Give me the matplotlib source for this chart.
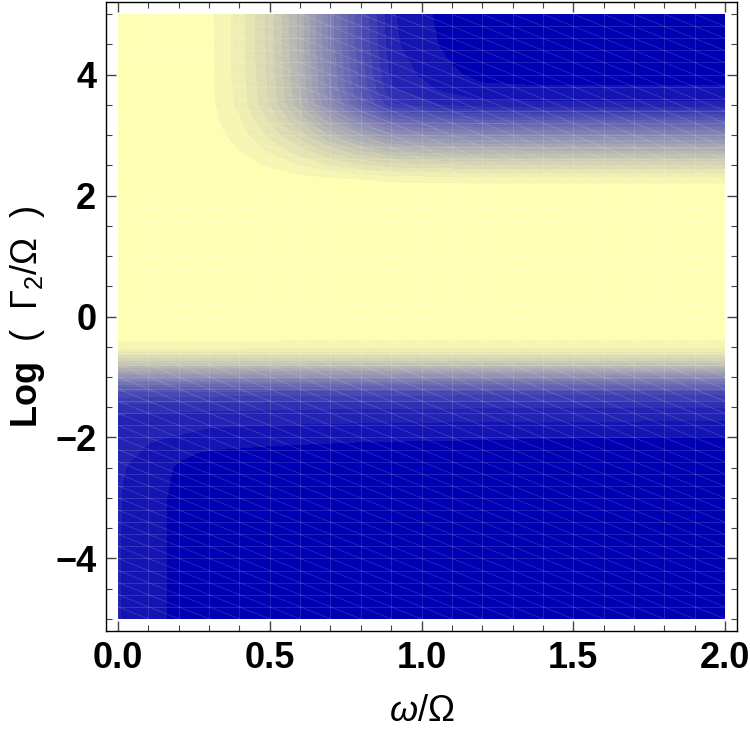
import numpy as np
import matplotlib
matplotlib.use("Agg")
import matplotlib.pyplot as plt
from matplotlib.collections import LineCollection
from matplotlib.ticker import MultipleLocator

plt.rcParams["font.family"] = ["Liberation Sans", "DejaVu Sans"]
plt.rcParams["mathtext.fontset"] = "custom"
plt.rcParams["mathtext.rm"] = "Liberation Sans"
plt.rcParams["mathtext.it"] = "Liberation Sans:italic"
plt.rcParams["mathtext.bf"] = "Liberation Sans:bold"

# ── Data (0 = dark blue, 1 = pale yellow) ────────────────────────────────────
# upper half: Log(Γ2/Ω) from 0 to 5
x_upper = [0, 0.2, 0.3, 0.4, 0.5, 0.6, 0.7, 0.8, 0.9, 1.0, 1.1, 1.2, 1.4, 2.0]
y_upper = [0, 1.5, 2.0, 2.25, 2.5, 2.75, 3.0, 3.25, 3.5, 3.75, 4.0, 4.5, 5.0]
z_upper = [
    [1, 1, 1, 1, 1, 1, 1, 1, 1, 1, 1, 1, 1, 1],
    [1, 1, 1, 1, 1, 1, 1, 1, 1, 1, 1, 1, 1, 1],
    [1, 1, 1, 0.999, 0.998, 0.996, 0.994, 0.992, 0.991, 0.99, 0.99, 0.99, 0.99, 0.99],
    [1, 1, 0.9985, 0.995, 0.989, 0.981, 0.971, 0.962, 0.954, 0.9525, 0.951, 0.95, 0.95, 0.95],
    [1, 0.999, 0.994, 0.978, 0.952, 0.918, 0.878, 0.845, 0.817, 0.81, 0.804, 0.801, 0.8, 0.8],
    [1, 0.998, 0.988, 0.958, 0.91, 0.848, 0.775, 0.712, 0.661, 0.649, 0.638, 0.632, 0.63, 0.63],
    [1, 0.997, 0.982, 0.94, 0.868, 0.778, 0.668, 0.572, 0.497, 0.478, 0.462, 0.452, 0.45, 0.45],
    [1, 0.996, 0.977, 0.922, 0.83, 0.71, 0.565, 0.437, 0.332, 0.307, 0.286, 0.273, 0.27, 0.27],
    [1, 0.995, 0.973, 0.907, 0.796, 0.648, 0.466, 0.304, 0.167, 0.136, 0.11, 0.094, 0.09, 0.09],
    [1, 0.995, 0.97, 0.904, 0.789, 0.635, 0.443, 0.272, 0.126, 0.093, 0.066, 0.049, 0.045, 0.045],
    [1, 0.995, 0.97, 0.9, 0.785, 0.63, 0.435, 0.26, 0.108, 0.074, 0.046, 0.029, 0.025, 0.025],
    [1, 0.995, 0.97, 0.9, 0.78, 0.62, 0.42, 0.245, 0.09, 0.055, 0.027, 0.009, 0.005, 0.005],
    [1, 0.995, 0.97, 0.9, 0.78, 0.62, 0.42, 0.24, 0.085, 0.05, 0.022, 0.004, 0, 0],
]

# lower half: Log(Γ2/Ω) from -5 to 0.5
x_lower = [0, 0.01, 0.03, 0.06, 0.1, 0.15, 0.2, 0.3, 0.5, 0.8, 1.2, 2.0]
y_lower = [-5, -4, -3, -2.75, -2.5, -2.25, -2, -1.75, -1.5, -1.25, -1, -0.75, -0.5, -0.25, 0.5]
z_lower = [
    [0.092, 0.078, 0.068, 0.059, 0.05, 0.041, 0.035, 0.025, 0.015, 0.008, 0.004, 0.0],
    [0.092, 0.078, 0.068, 0.059, 0.05, 0.041, 0.035, 0.025, 0.015, 0.008, 0.004, 0.001],
    [0.093, 0.08, 0.07, 0.061, 0.052, 0.041, 0.036, 0.027, 0.018, 0.011, 0.007, 0.004],
    [0.094, 0.082, 0.074, 0.065, 0.055, 0.042, 0.037, 0.029, 0.021, 0.014, 0.01, 0.007],
    [0.095, 0.085, 0.079, 0.07, 0.061, 0.046, 0.036, 0.031, 0.025, 0.018, 0.014, 0.011],
    [0.097, 0.089, 0.085, 0.082, 0.072, 0.063, 0.046, 0.036, 0.03, 0.025, 0.022, 0.02],
    [0.099, 0.094, 0.091, 0.088, 0.085, 0.081, 0.077, 0.062, 0.052, 0.046, 0.043, 0.037],
    [0.104, 0.101, 0.099, 0.097, 0.096, 0.095, 0.094, 0.09, 0.085, 0.081, 0.078, 0.075],
    [0.14, 0.138, 0.136, 0.135, 0.134, 0.133, 0.132, 0.13, 0.127, 0.124, 0.122, 0.12],
    [0.235, 0.233, 0.231, 0.23, 0.229, 0.228, 0.227, 0.225, 0.222, 0.22, 0.218, 0.215],
    [0.48, 0.48, 0.48, 0.478, 0.477, 0.476, 0.475, 0.473, 0.47, 0.467, 0.464, 0.46],
    [0.745, 0.745, 0.745, 0.744, 0.744, 0.743, 0.743, 0.742, 0.741, 0.74, 0.74, 0.74],
    [0.94, 0.94, 0.94, 0.939, 0.939, 0.938, 0.938, 0.937, 0.936, 0.935, 0.935, 0.935],
    [0.99, 0.99, 0.99, 0.99, 0.99, 0.99, 0.99, 0.99, 0.99, 0.99, 0.99, 0.99],
    [1, 1, 1, 1, 1, 1, 1, 1, 1, 1, 1, 1],
]

x_ticks = [0.0, 0.5, 1.0, 1.5, 2.0]
y_ticks = [-4, -2, 0, 2, 4]

# ── Style ────────────────────────────────────────────────────────────────────
n_bands = 25
levels = np.linspace(0, 1, n_bands + 1)
shade = [(i / (n_bands - 1)) ** 0.8 for i in range(n_bands)]
band_colors = [(s, s, 0.7) for s in shade]

fig = plt.figure(figsize=(7.5, 7.36), dpi=100)
ax = fig.add_axes([106 / 750, 1 - 631 / 736, 631 / 750, 629 / 736])

ax.contourf(x_lower, y_lower, z_lower, levels=levels, colors=band_colors)
ax.contourf(x_upper, y_upper, z_upper, levels=levels, colors=band_colors)

# faint triangulation mesh like the Mathematica render
dx, dy = 0.1, 0.2
xs = np.arange(0, 2 + 1e-9, dx)
ys = np.arange(-5, 5 + 1e-9, dy)
segs = [[(x, -5), (x, 5)] for x in xs[1:-1]]
segs += [[(0, y), (2, y)] for y in ys[1:-1]]
segs += [[(x, y + dy), (x + dx, y)] for x in xs[:-1] for y in ys[:-1]]
ax.add_collection(LineCollection(segs, colors="white", linewidths=0.6, alpha=0.16, zorder=2))

ax.set_xlim(-0.04, 2.04)
ax.set_ylim(-5.2, 5.2)

ax.set_xticks(x_ticks)
ax.set_xticklabels([f"{v:.1f}" for v in x_ticks])
ax.set_yticks(y_ticks)
ax.set_yticklabels([f"{v:d}".replace("-", "\u2212") for v in y_ticks])
ax.xaxis.set_minor_locator(MultipleLocator(0.1))
ax.yaxis.set_minor_locator(MultipleLocator(0.5))

ax.tick_params(which="both", direction="in", top=True, right=True, color="#444444")
ax.tick_params(which="major", length=7, width=1.0, labelsize=26, pad=7)
ax.tick_params(which="minor", length=4, width=0.8)
for lab in ax.get_xticklabels() + ax.get_yticklabels():
    lab.set_fontweight("bold")

for sp in ax.spines.values():
    sp.set_color("black")
    sp.set_linewidth(1.0)

ax.set_xlabel(r"$\mathit{\omega}$/Ω", fontsize=26)
ax.set_ylabel(r"$\mathbf{Log}$  (  Γ$_2$/Ω  )", fontsize=26)
ax.xaxis.set_label_coords(0.5, -0.1)
ax.yaxis.set_label_coords(-0.094, 0.5)

fig.savefig("out.png", dpi=100)
